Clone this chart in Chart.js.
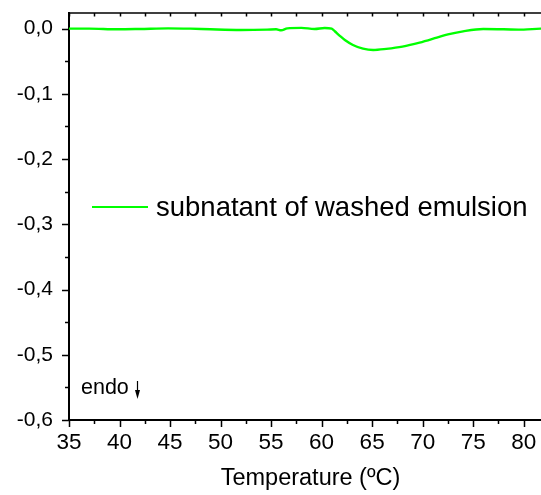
<!DOCTYPE html>
<html><head><meta charset="utf-8">
<script src="https://cdn.jsdelivr.net/npm/chart.js@4/dist/chart.umd.min.js"></script>
<style>html,body{margin:0;padding:0;background:#fff;overflow:hidden}canvas{display:block}</style>
</head><body>
<canvas id="c" width="552" height="495"></canvas>
<script>
const temperature = [35, 37, 39.8, 42, 44.8, 47, 49, 52, 54.6, 55.5, 56, 56.6, 58, 59.3, 60.3, 61, 61.3, 61.8, 62.3, 63.1, 64.1, 65.1, 66.4, 68, 69.7, 71.4, 72.5, 74, 76, 78, 80, 81.7, 82.8];
const heatFlow = [0, 0, -0.001, -0.0005, 0.0005, 0, -0.001, -0.002, -0.0015, -0.001, -0.0025, 0.0005, 0.0012, -0.0005, 0.001, 0, -0.004, -0.011, -0.0174, -0.025, -0.0307, -0.0327, -0.031, -0.0276, -0.0215, -0.0138, -0.0087, -0.0041, -0.0006, -0.001, -0.0015, 0, 0];
const seriesName = 'subnatant of washed emulsion';
const xTitle = 'Temperature (ºC)';
const xMajorTicks = [35, 40, 45, 50, 55, 60, 65, 70, 75, 80];
const xMinorTicks = [37.5, 42.5, 47.5, 52.5, 57.5, 62.5, 67.5, 72.5, 77.5, 82.5];
const yMajorTicks = [0, -0.1, -0.2, -0.3, -0.4, -0.5, -0.6];
const yTickLabels = ['0,0', '-0,1', '-0,2', '-0,3', '-0,4', '-0,5', '-0,6'];
const yMinorTicks = [-0.05, -0.15, -0.25, -0.35, -0.45, -0.55];
const annotationText = 'endo';

const FONT = "'Liberation Sans', Arial, sans-serif";
const LINE = '#00ff00';

const tickPlugin = {
  id: 'ticksAndNotes',
  afterDraw(chart) {
    const ctx = chart.ctx;
    const xs = chart.scales.x, ys = chart.scales.y;
    const a = chart.chartArea;
    ctx.save();
    ctx.strokeStyle = '#000';
    ctx.lineWidth = 1.5;
    ctx.beginPath();
    ctx.moveTo(a.left, a.top); ctx.lineTo(a.right, a.top);
    xMajorTicks.forEach(v => { const p = Math.round(xs.getPixelForValue(v)) + 0.5;
      ctx.moveTo(p, a.bottom); ctx.lineTo(p, a.bottom + 7);
      ctx.moveTo(p, a.top); ctx.lineTo(p, a.top + 3.5); });
    xMinorTicks.forEach(v => { const p = Math.round(xs.getPixelForValue(v)) + 0.5;
      ctx.moveTo(p, a.bottom); ctx.lineTo(p, a.bottom + 4);
      ctx.moveTo(p, a.top); ctx.lineTo(p, a.top + 3.5); });
    yMajorTicks.forEach(v => { const p = Math.round(ys.getPixelForValue(v)) + 0.5;
      ctx.moveTo(a.left, p); ctx.lineTo(a.left - 7, p); });
    yMinorTicks.forEach(v => { const p = Math.round(ys.getPixelForValue(v)) + 0.5;
      ctx.moveTo(a.left, p); ctx.lineTo(a.left - 4, p); });
    ctx.stroke();

    // legend
    ctx.strokeStyle = LINE;
    ctx.lineWidth = 2.2;
    ctx.beginPath();
    ctx.moveTo(92, 207); ctx.lineTo(148, 207);
    ctx.stroke();
    ctx.fillStyle = '#000';
    ctx.font = '27.5px ' + FONT;
    ctx.textBaseline = 'middle';
    ctx.textAlign = 'left';
    ctx.fillText(seriesName, 156, 208);

    // endo annotation
    ctx.font = '21.5px ' + FONT;
    ctx.textBaseline = 'alphabetic';
    ctx.fillText(annotationText, 81, 394);
    ctx.strokeStyle = '#000';
    ctx.lineWidth = 1.2;
    ctx.beginPath();
    ctx.moveTo(137.5, 381); ctx.lineTo(137.5, 393);
    ctx.stroke();
    ctx.beginPath();
    ctx.moveTo(135, 390); ctx.lineTo(140, 390); ctx.lineTo(137.5, 399); ctx.closePath();
    ctx.fill();
    ctx.restore();
  }
};

const noPad = s => { s.paddingTop = 0; s.paddingBottom = 0; s.paddingLeft = 0; s.paddingRight = 0; };

new Chart(document.getElementById('c'), {
  type: 'line',
  data: {
    datasets: [{
      label: seriesName,
      data: temperature.map((t, i) => ({ x: t, y: heatFlow[i] })),
      borderColor: LINE,
      borderWidth: 2.4,
      pointRadius: 0,
      cubicInterpolationMode: 'monotone',
      fill: false
    }]
  },
  options: {
    responsive: false,
    animation: false,
    devicePixelRatio: 1,
    layout: { padding: { top: 13, right: 0, left: 0, bottom: 0 } },
    plugins: { legend: { display: false }, tooltip: { enabled: false } },
    scales: {
      x: {
        type: 'linear', min: 35, max: 82.8,
        afterBuildTicks: s => { s.ticks = xMajorTicks.map(v => ({ value: v })); },
        afterFit: s => { s.height = 75; noPad(s); },
        grid: { drawOnChartArea: false, drawTicks: false },
        border: { display: true, color: '#000', width: 2 },
        ticks: { autoSkip: false, maxRotation: 0, padding: 9, color: '#000',
                 font: { family: FONT, size: 22.5 }, callback: v => String(v) },
        title: { display: true, text: xTitle, color: '#000',
                 font: { family: FONT, size: 23.5 }, padding: { top: 0, bottom: 2 } }
      },
      y: {
        type: 'linear', min: -0.6, max: 0.024,
        afterBuildTicks: s => { s.ticks = yMajorTicks.map(v => ({ value: v })); },
        afterFit: s => { s.width = 69; noPad(s); },
        grid: { drawOnChartArea: false, drawTicks: false },
        border: { display: true, color: '#000', width: 2 },
        ticks: { autoSkip: false, padding: 16, color: '#000',
                 font: { family: FONT, size: 21 },
                 callback: v => { const i = yMajorTicks.findIndex(m => Math.abs(m - v) < 1e-6); return i >= 0 ? yTickLabels[i] : ''; } }
      }
    }
  },
  plugins: [tickPlugin]
});
</script>
</body></html>
